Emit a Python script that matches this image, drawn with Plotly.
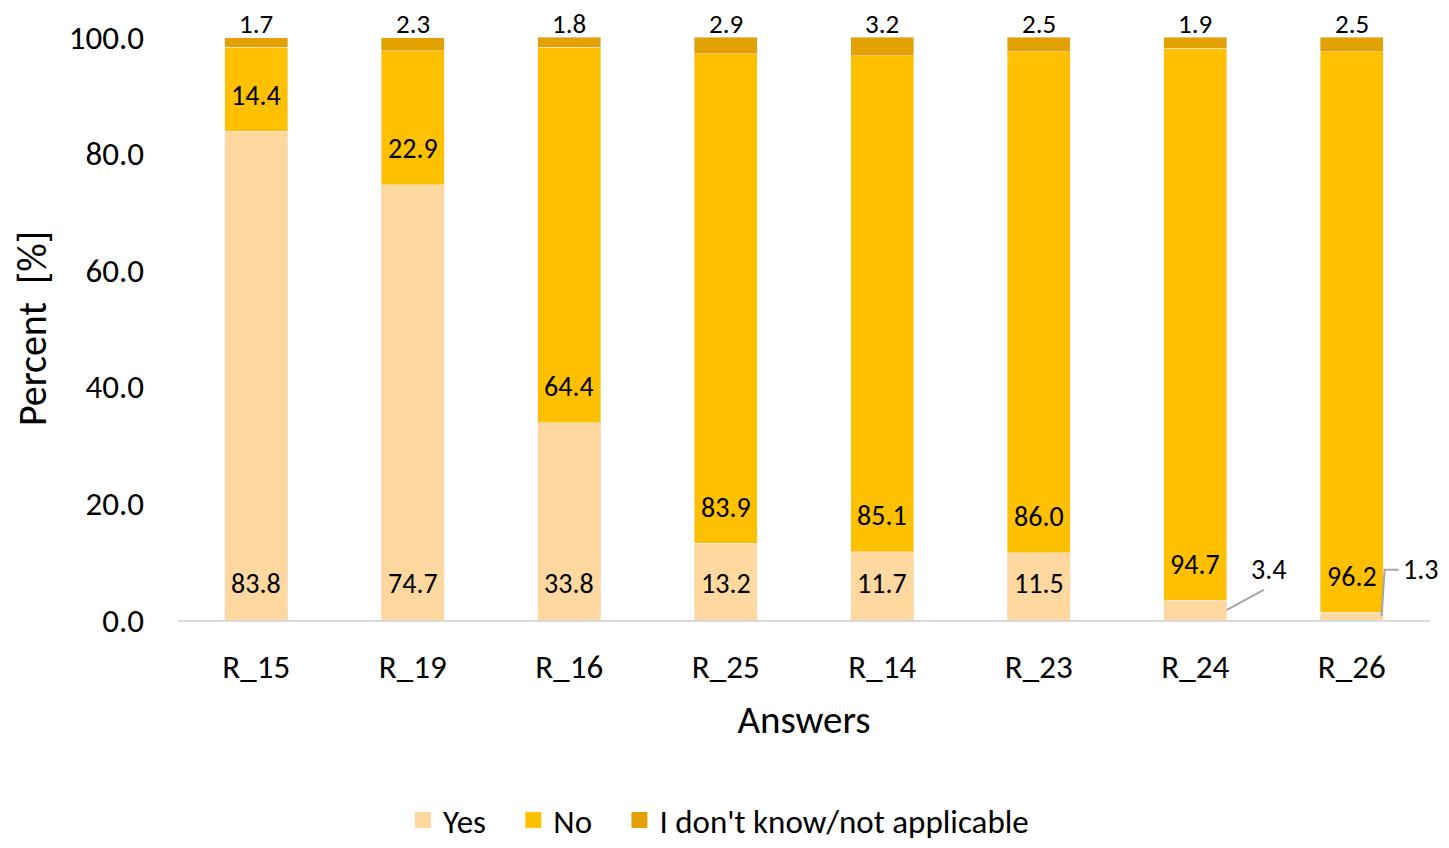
import plotly.graph_objects as go

categories = ["R_15", "R_19", "R_16", "R_25", "R_14", "R_23", "R_24", "R_26"]
yes_vals = [83.8, 74.7, 33.8, 13.2, 11.7, 11.5, 3.4, 1.3]
no_vals = [14.4, 22.9, 64.4, 83.9, 85.1, 86.0, 94.7, 96.2]
dk_vals = [1.7, 2.3, 1.8, 2.9, 3.2, 2.5, 1.9, 2.5]
y_ticks = [0, 20, 40, 60, 80, 100]
series_names = ["Yes", "No", "I don't know/not applicable"]

C_YES = "#FED89E"
C_NO = "#FFC000"
C_DK = "#E2A100"
colors = [C_YES, C_NO, C_DK]
FONT = "Carlito, Lato, sans-serif"
PAD = "\u00a0" * 3

fig = go.Figure()
for k, (name, vals, col) in enumerate(zip(series_names, [yes_vals, no_vals, dk_vals], colors)):
    fig.add_bar(x=categories, y=vals, name=name, marker_color=col, width=0.4,
                legendgroup=name, showlegend=False)
    label = name + (PAD if k < len(series_names) - 1 else "")
    fig.add_scatter(x=[None], y=[None], mode="markers", name=label, legendgroup=name,
                    marker=dict(symbol="square", size=18, color=col))

LBL = 28
ann = []
shapes = []
for i, c in enumerate(categories):
    y, n, d = yes_vals[i], no_vals[i], dk_vals[i]
    if y >= 5:
        ann.append(dict(x=c, y=0, yshift=37, text=f"{y:.1f}", showarrow=False,
                        font=dict(size=LBL), yanchor="middle", borderpad=0))
    ann.append(dict(x=c, y=y, yshift=36, text=f"{n:.1f}", showarrow=False,
                    font=dict(size=LBL), yanchor="middle", borderpad=0))
    top = min(round(y + n + d, 6), 100)
    ann.append(dict(x=c, y=top, yshift=14, text=f"{d:.1f}", showarrow=False,
                    font=dict(size=27), yanchor="middle", borderpad=0))

# callouts for small Yes segments
i24 = categories.index("R_24")
y24 = yes_vals[i24]
shapes.append(dict(type="line", xref="x", yref="y", x0=i24 + 0.2, y0=y24 / 2,
                   x1=i24 + 0.44, y1=y24 + 1.8, line=dict(color="#A6A6A6", width=2)))
ann.append(dict(x=i24 + 0.47, y=y24 + 5.2, text=f"{y24:.1f}", showarrow=False,
                font=dict(size=LBL), yanchor="middle", borderpad=0))
i26 = categories.index("R_26")
y26 = yes_vals[i26]
shapes.append(dict(type="path", xref="x", yref="y",
                   path=f"M {i26 + 0.19},{y26 / 2} L {i26 + 0.21},{y26 + 7.3} L {i26 + 0.3},{y26 + 7.3}",
                   line=dict(color="#A6A6A6", width=2)))
ann.append(dict(x=i26 + 0.44, y=y26 + 7.3, text=f"{y26:.1f}", showarrow=False,
                font=dict(size=LBL), yanchor="middle", borderpad=0))

fig.update_layout(
    barmode="stack",
    width=1441, height=840,
    margin=dict(l=170, r=19, t=29, b=228),
    paper_bgcolor="white", plot_bgcolor="white",
    font=dict(family=FONT, size=28, color="black"),
    annotations=ann,
    shapes=shapes,
    legend=dict(orientation="h", xref="container", yref="container",
                x=0.493, xanchor="center", y=-0.009, yanchor="bottom",
                traceorder="normal",
                font=dict(size=33), itemwidth=30, tracegroupgap=0),
    xaxis=dict(showline=True, linecolor="#D9D9D9", linewidth=2, ticks="",
               automargin=False, range=[-0.5, len(categories) - 0.5],
               tickfont=dict(size=33), ticklabelstandoff=16,
               title=dict(text="Answers", font=dict(size=39), standoff=20)),
    yaxis=dict(range=[0, 100], tickvals=y_ticks, tickformat=".1f", showgrid=False,
               zeroline=False, showline=False, tickfont=dict(size=33),
               automargin=False, ticklabelstandoff=33,
               title=dict(text="Percent  [%]", font=dict(size=40), standoff=22)),
)

fig.write_html("out.html")
